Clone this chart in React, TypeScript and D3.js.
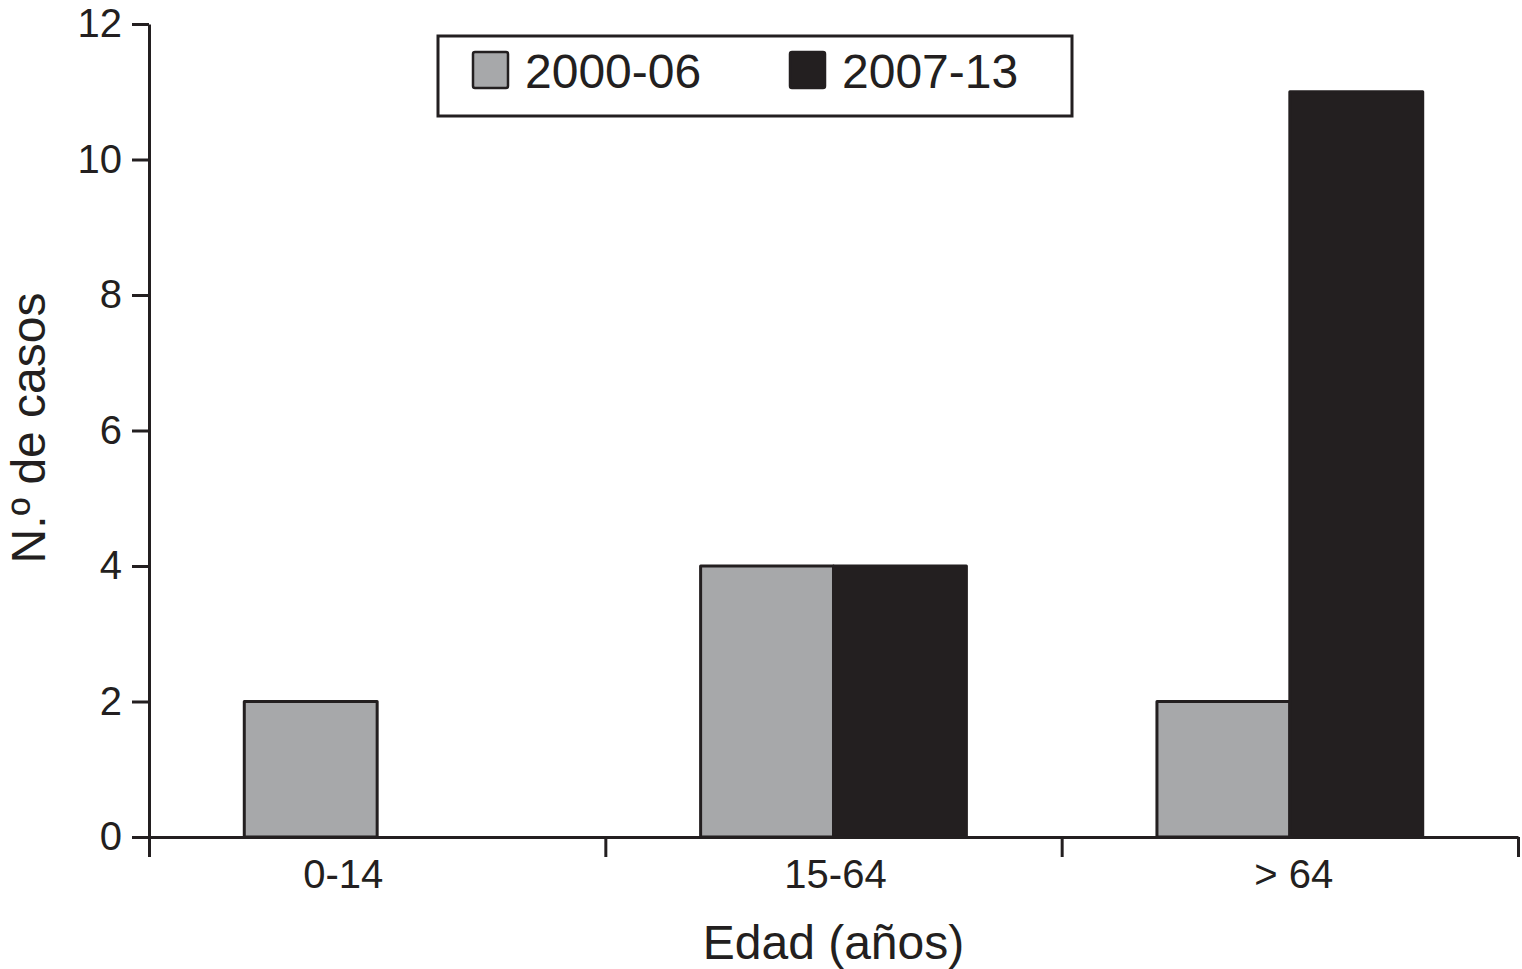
import { useRef, useEffect } from 'react'
import { select, scaleLinear, scaleBand, axisLeft, axisBottom } from 'd3'

const categories = ['0-14', '15-64', '> 64']
const series = ['2000-06', '2007-13']
const values2000 = [2, 4, 2]
const values2007 = [0, 4, 11]
const yTicks = [0, 2, 4, 6, 8, 10, 12]
const colors = ['#a7a8aa', '#231f20']

const width = 1522
const height = 969
const margin = { top: 24, right: 4, bottom: 132, left: 149 }
const font = '"Liberation Sans", Arial, sans-serif'
const ink = '#231f20'
// the first category label sits left of its band centre in the original
const labelNudge = [-34, 2, 4]

const App = () => {
  const svgRef = useRef(null)

  useEffect(() => {
    const svg = select(svgRef.current)
    svg.selectAll('*').remove()

    const y = scaleLinear().domain([0, 12]).range([height - margin.bottom, margin.top])
    const x = scaleBand().domain(categories).range([margin.left, width - margin.right]).padding(0)
    const xSub = scaleBand().domain(series).range([0, x.bandwidth()]).paddingInner(0).paddingOuter(0.717)
    const xEdges = scaleLinear().domain([0, categories.length]).range([margin.left, width - margin.right])

    const rows = categories.map((c, i) => ({ c, vals: [values2000[i], values2007[i]] }))

    // bars
    const groups = svg.append('g')
      .selectAll('g')
      .data(rows)
      .join('g')
      .attr('transform', d => `translate(${x(d.c)},0)`)

    groups.selectAll('rect')
      .data(d => d.vals.map((v, k) => ({ v, k })).filter(e => e.v > 0))
      .join('rect')
      .attr('x', d => xSub(series[d.k]))
      .attr('y', d => y(d.v))
      .attr('width', xSub.bandwidth())
      .attr('height', d => y(0) - y(d.v))
      .attr('fill', d => colors[d.k])
      .attr('stroke', ink)
      .attr('stroke-width', 3)
      .attr('stroke-linejoin', 'round')

    // y axis
    const yAxis = svg.append('g')
      .attr('transform', `translate(${margin.left},0)`)
      .call(axisLeft(y).tickValues(yTicks).tickSize(17).tickSizeOuter(0).tickPadding(10))
    yAxis.selectAll('path, line').attr('stroke', ink).attr('stroke-width', 3)
    yAxis.selectAll('text').attr('font-size', 40).attr('font-family', font).attr('fill', ink)

    // x axis: edge ticks
    const xAxis = svg.append('g')
      .attr('transform', `translate(0,${y(0)})`)
      .call(axisBottom(xEdges).ticks(categories.length).tickFormat(() => '').tickSize(20).tickSizeOuter(0))
    xAxis.selectAll('path, line').attr('stroke', ink).attr('stroke-width', 3)

    // x axis labels
    const xLabels = svg.append('g')
      .attr('transform', `translate(0,${y(0)})`)
      .call(axisBottom(x).tickSize(0).tickPadding(23))
    xLabels.select('.domain').remove()
    xLabels.selectAll('text')
      .attr('font-size', 40)
      .attr('font-family', font)
      .attr('fill', ink)
      .attr('dx', (d, i) => labelNudge[i])

    // titles
    svg.append('text')
      .attr('x', (margin.left + width - margin.right) / 2)
      .attr('y', 959)
      .attr('text-anchor', 'middle')
      .attr('font-size', 48)
      .attr('font-family', font)
      .attr('fill', ink)
      .text('Edad (años)')

    svg.append('text')
      .attr('transform', `translate(45,${428}) rotate(-90)`)
      .attr('text-anchor', 'middle')
      .attr('font-size', 48)
      .attr('font-family', font)
      .attr('fill', ink)
      .text('N.º de casos')

    // legend
    const legend = svg.append('g').attr('transform', 'translate(438,36)')
    legend.append('rect')
      .attr('width', 634)
      .attr('height', 80)
      .attr('fill', 'white')
      .attr('stroke', ink)
      .attr('stroke-width', 3)
    const legendX = [35, 352]
    const items = legend.selectAll('g.item')
      .data(series)
      .join('g')
      .attr('class', 'item')
      .attr('transform', (d, i) => `translate(${legendX[i]},16)`)
    items.append('rect')
      .attr('width', 35)
      .attr('height', 36)
      .attr('rx', 2)
      .attr('fill', (d, i) => colors[i])
      .attr('stroke', ink)
      .attr('stroke-width', 2.5)
    items.append('text')
      .attr('x', 52)
      .attr('y', 36)
      .attr('font-size', 48)
      .attr('font-family', font)
      .attr('fill', ink)
      .text(d => d)
  }, [])

  return (
    <svg ref={svgRef} width={width} height={height}
      style={{ position: 'absolute', left: 0, top: 0, background: 'white' }} />
  )
}

export default App
